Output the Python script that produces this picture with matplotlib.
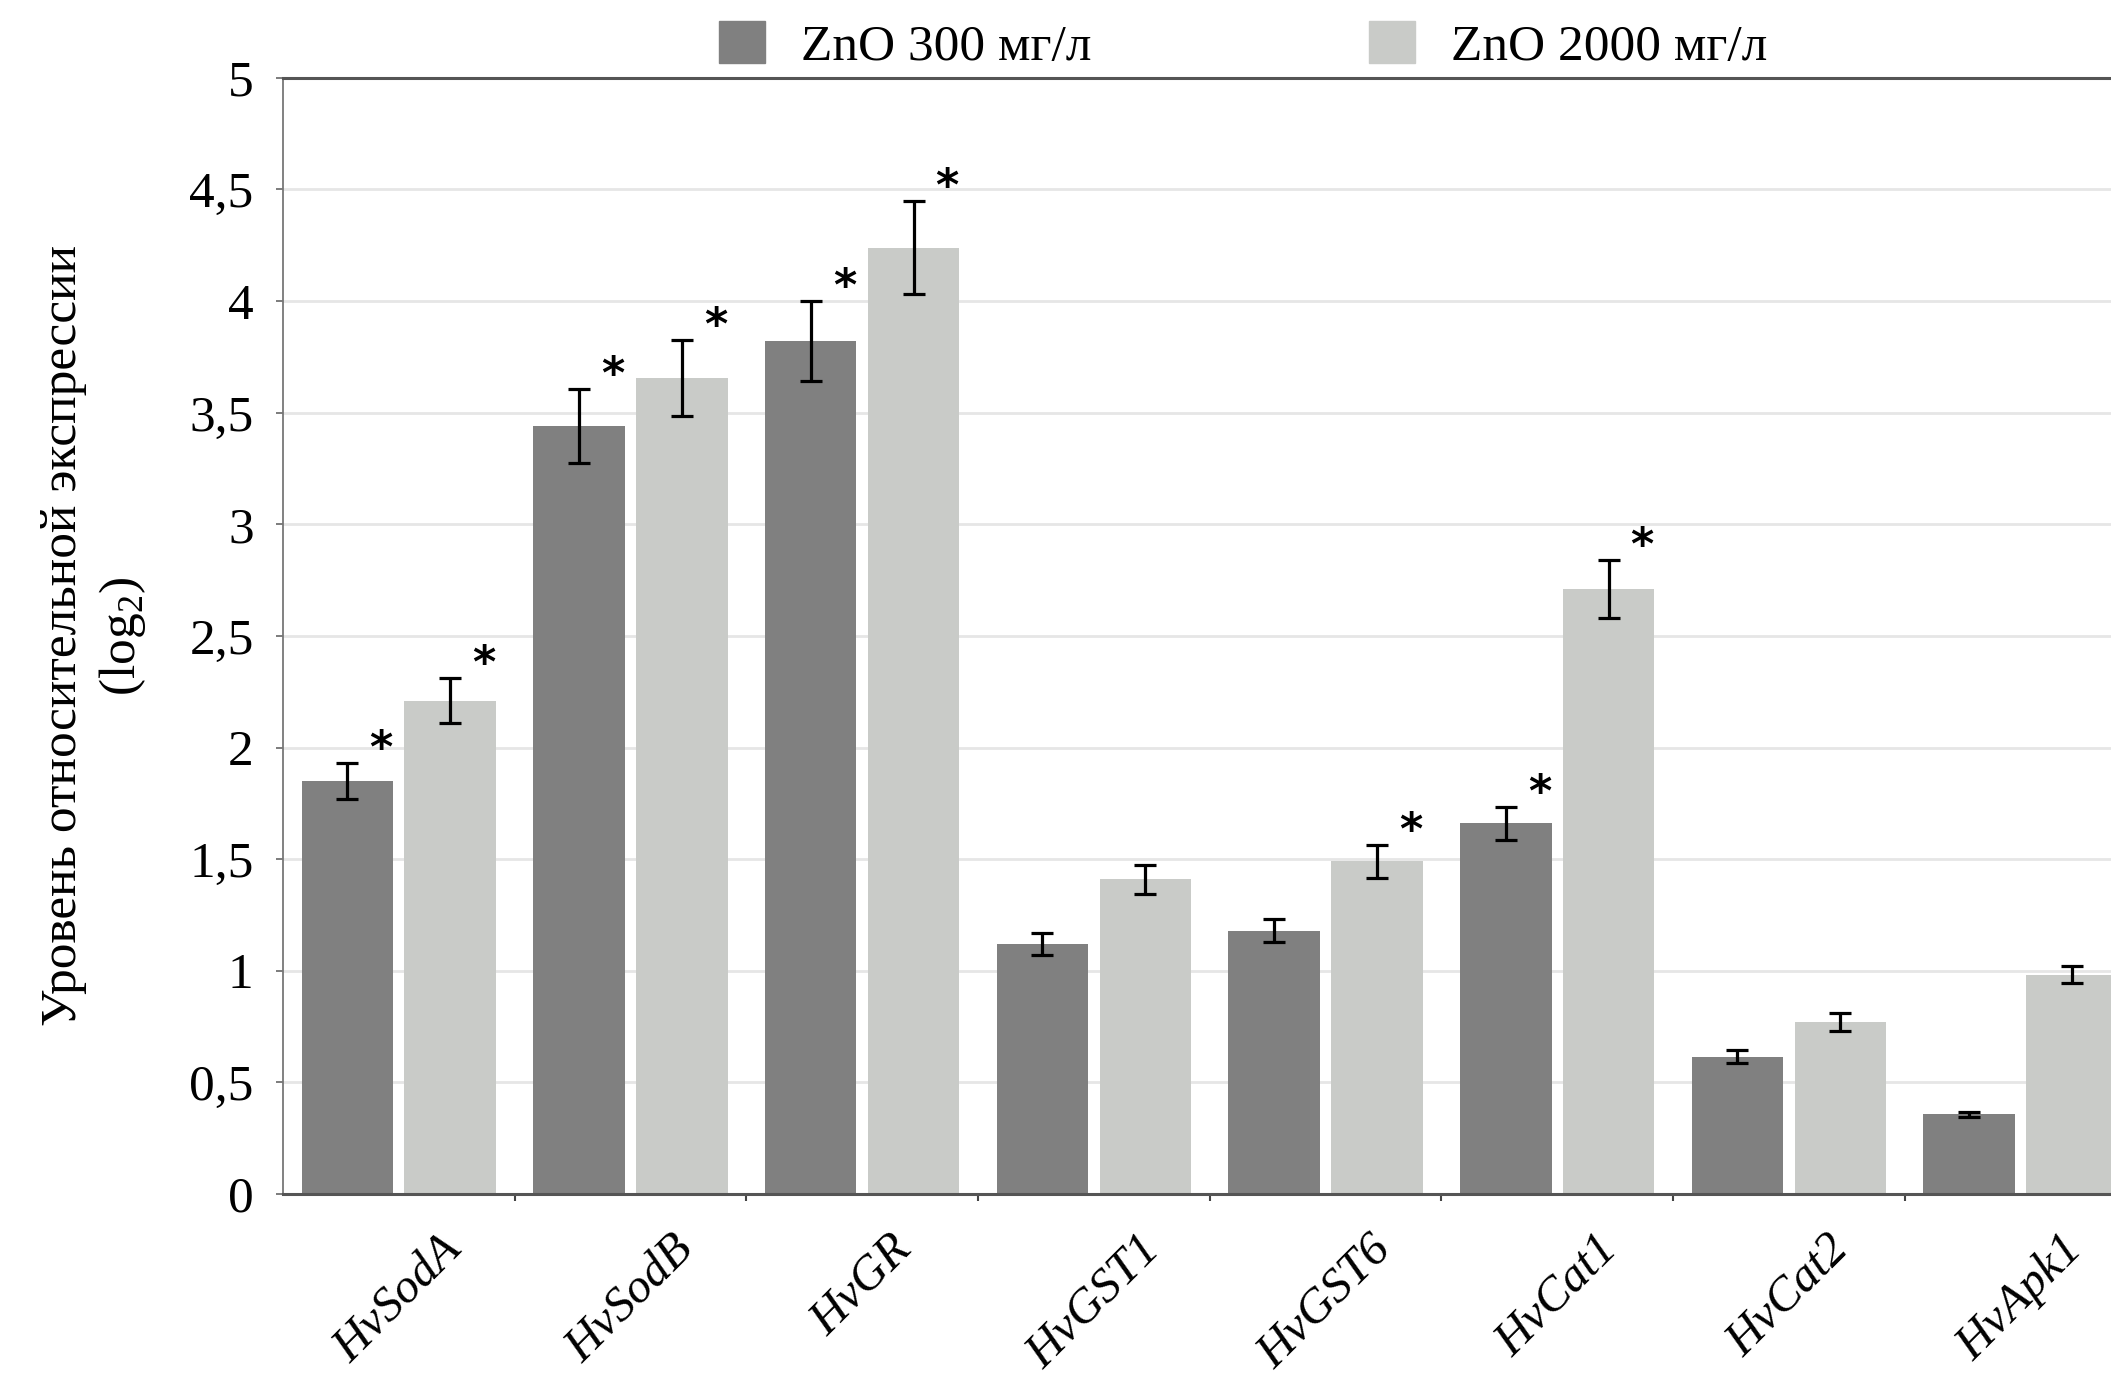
import matplotlib
matplotlib.use("Agg")
import matplotlib.pyplot as plt
import numpy as np
from matplotlib.patches import Patch

genes = ["HvSodA", "HvSodB", "HvGR", "HvGST1", "HvGST6", "HvCat1", "HvCat2", "HvApk1"]
zn300 = [1.85, 3.44, 3.82, 1.12, 1.18, 1.66, 0.615, 0.356]
zn300_err = [0.08, 0.165, 0.18, 0.05, 0.05, 0.075, 0.03, 0.012]
zn2000 = [2.21, 3.655, 4.24, 1.41, 1.49, 2.71, 0.77, 0.983]
zn2000_err = [0.10, 0.17, 0.21, 0.065, 0.075, 0.13, 0.04, 0.04]
sig300 = [True, True, True, False, False, True, False, False]
sig2000 = [True, True, True, False, True, True, False, False]
yticks = [0, 0.5, 1, 1.5, 2, 2.5, 3, 3.5, 4, 4.5, 5]
ytick_labels = ["0", "0,5", "1", "1,5", "2", "2,5", "3", "3,5", "4", "4,5", "5"]
legend_labels = ["ZnO 300 мг/л", "ZnO 2000 мг/л"]
ylabel = "Уровень относительной экспрессии\n(log$_2$)"

dark = "#808080"
light = "#c9cbc8"
serif = ["Liberation Serif", "DejaVu Serif"]
plt.rcParams["mathtext.fontset"] = "custom"
plt.rcParams["mathtext.rm"] = "Liberation Serif"

fig = plt.figure(figsize=(21.11, 13.83), dpi=100)
ax = fig.add_axes([0.134, 0.1367, 0.866, 0.807])

x = np.arange(len(genes))
w = 0.395
off = 0.222
ax.bar(x - off, zn300, w, color=dark, zorder=2)
ax.bar(x + off, zn2000, w, color=light, zorder=2)
ek = dict(fmt="none", ecolor="black", elinewidth=2.3, capsize=8, capthick=2.3, zorder=3)
ax.errorbar(x - off, zn300, yerr=zn300_err, **ek)
ax.errorbar(x + off, zn2000, yerr=zn2000_err, **ek)

for i in range(len(genes)):
    if sig300[i]:
        ax.text(x[i] - off + 0.145, zn300[i] + zn300_err[i] + 0.06, "*", ha="center", va="center",
                fontsize=32, fontweight="bold", family="DejaVu Sans", zorder=4)
    if sig2000[i]:
        ax.text(x[i] + off + 0.145, zn2000[i] + zn2000_err[i] + 0.06, "*", ha="center", va="center",
                fontsize=32, fontweight="bold", family="DejaVu Sans", zorder=4)

ax.set_yticks(yticks)
ax.set_yticklabels(ytick_labels, family=serif, fontsize=37)
ax.set_xticks(x)
ax.set_xticklabels(genes, family=serif, style="italic", fontsize=35, rotation=45, ha="center")
ax.set_xticks(np.arange(len(genes)) + 0.5, minor=True)
ax.set_xlim(-0.5, 7.39)
ax.set_ylim(0, 5)
ax.tick_params(axis="x", which="major", length=0, pad=24)
ax.tick_params(axis="x", which="minor", length=5, width=1.5, color="#444444", direction="out")
ax.tick_params(axis="y", length=5, width=1.2, color="#666666", pad=16)

for yv in yticks[1:-1]:
    ax.axhline(yv, color="#e6e6e6", lw=2, zorder=1)

ax.spines["right"].set_visible(False)
ax.spines["top"].set_color("#555555")
ax.spines["top"].set_linewidth(2.2)
ax.spines["bottom"].set_color("#555555")
ax.spines["bottom"].set_linewidth(2.2)
ax.spines["left"].set_color("#777777")
ax.spines["left"].set_linewidth(1.3)

ax.set_ylabel(ylabel, family=serif, fontsize=37, labelpad=30, linespacing=1.25)

handles = [Patch(color=dark), Patch(color=light)]
fig.legend(handles, legend_labels, loc="center", bbox_to_anchor=(0.589, 0.967), ncol=2,
           frameon=False, prop={"family": serif, "size": 37}, handlelength=0.9, handleheight=0.9,
           handletextpad=0.7, columnspacing=5.4)

fig.savefig("out.png", dpi=100)
